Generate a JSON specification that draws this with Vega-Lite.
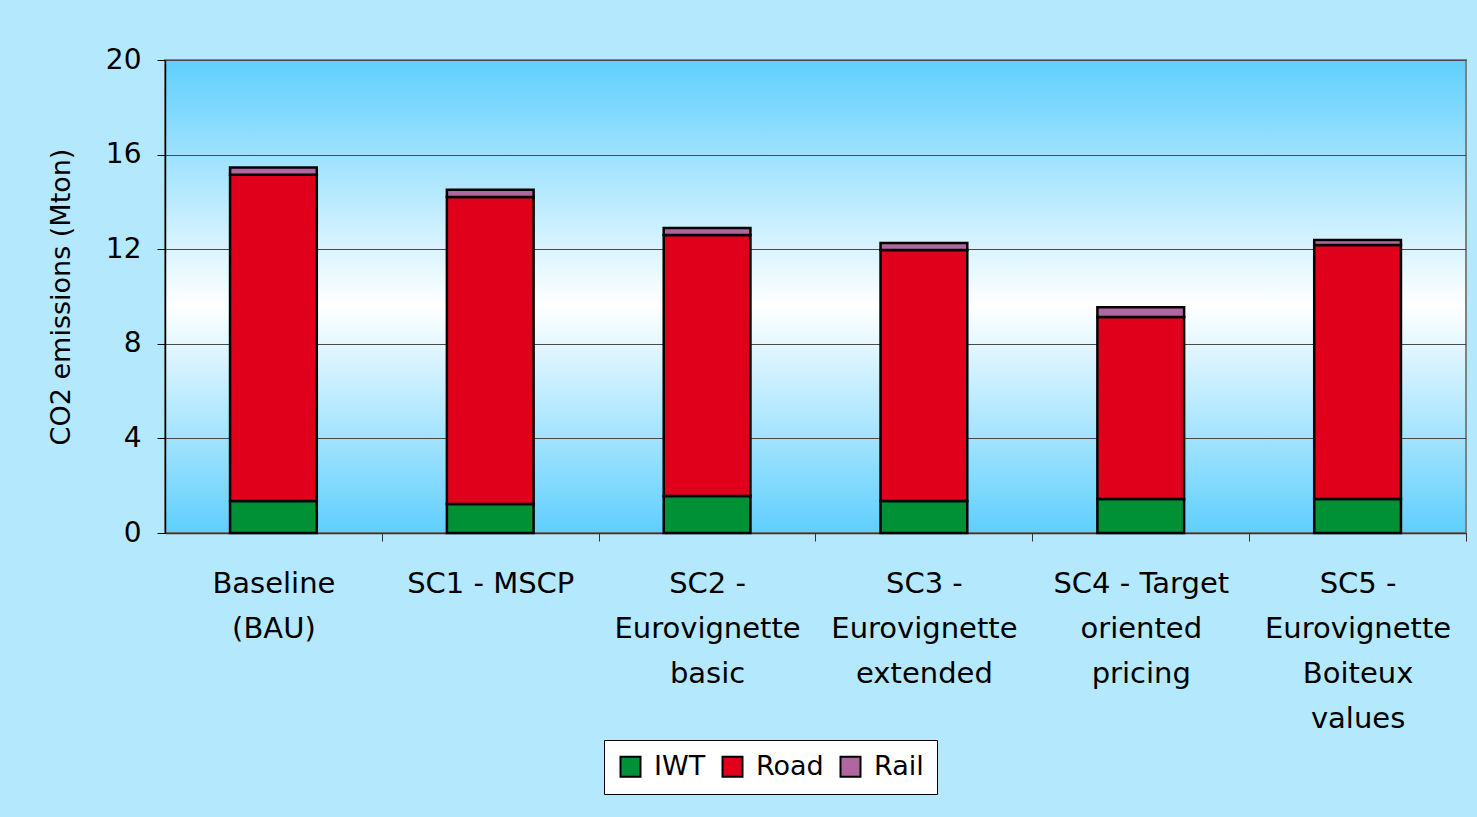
{
  "$schema": "https://vega.github.io/schema/vega-lite/v6.json",
  "autosize": {"type": "none"},
  "padding": {"left": 165, "top": 60, "right": 11, "bottom": 284},
  "width": 1301,
  "height": 473,
  "background": "#b4e8fc",
  "data": {
    "values": [
      {"scenario": "Baseline (BAU)", "mode": "IWT", "order": 1, "value": 1.35},
      {"scenario": "Baseline (BAU)", "mode": "Road", "order": 2, "value": 13.8},
      {"scenario": "Baseline (BAU)", "mode": "Rail", "order": 3, "value": 0.3},
      {"scenario": "SC1 - MSCP", "mode": "IWT", "order": 1, "value": 1.23},
      {"scenario": "SC1 - MSCP", "mode": "Road", "order": 2, "value": 12.98},
      {"scenario": "SC1 - MSCP", "mode": "Rail", "order": 3, "value": 0.3},
      {"scenario": "SC2 - Eurovignette basic", "mode": "IWT", "order": 1, "value": 1.56},
      {"scenario": "SC2 - Eurovignette basic", "mode": "Road", "order": 2, "value": 11.04},
      {"scenario": "SC2 - Eurovignette basic", "mode": "Rail", "order": 3, "value": 0.3},
      {"scenario": "SC3 - Eurovignette extended", "mode": "IWT", "order": 1, "value": 1.35},
      {"scenario": "SC3 - Eurovignette extended", "mode": "Road", "order": 2, "value": 10.62},
      {"scenario": "SC3 - Eurovignette extended", "mode": "Rail", "order": 3, "value": 0.29},
      {"scenario": "SC4 - Target oriented pricing", "mode": "IWT", "order": 1, "value": 1.44},
      {"scenario": "SC4 - Target oriented pricing", "mode": "Road", "order": 2, "value": 7.69},
      {"scenario": "SC4 - Target oriented pricing", "mode": "Rail", "order": 3, "value": 0.42},
      {"scenario": "SC5 - Eurovignette Boiteux values", "mode": "IWT", "order": 1, "value": 1.44},
      {"scenario": "SC5 - Eurovignette Boiteux values", "mode": "Road", "order": 2, "value": 10.74},
      {"scenario": "SC5 - Eurovignette Boiteux values", "mode": "Rail", "order": 3, "value": 0.21}
    ]
  },
  "mark": {"type": "bar", "stroke": "#000000", "strokeWidth": 2.5},
  "encoding": {
    "x": {
      "field": "scenario",
      "type": "nominal",
      "sort": null,
      "scale": {"paddingInner": 0.6, "paddingOuter": 0.3},
      "axis": {
        "title": null,
        "labelAngle": 0,
        "labelFont": "DejaVu Sans",
        "labelFontSize": 29,
        "labelColor": "#000000",
        "labelPadding": 28,
        "labelLineHeight": 45,
        "labelLimit": 300,
        "labelExpr": "({'Baseline (BAU)': ['Baseline', '(BAU)'], 'SC1 - MSCP': ['SC1 - MSCP'], 'SC2 - Eurovignette basic': ['SC2 -', 'Eurovignette', 'basic'], 'SC3 - Eurovignette extended': ['SC3 -', 'Eurovignette', 'extended'], 'SC4 - Target oriented pricing': ['SC4 - Target', 'oriented', 'pricing'], 'SC5 - Eurovignette Boiteux values': ['SC5 -', 'Eurovignette', 'Boiteux', 'values']})[datum.value]",
        "tickBand": "center",
        "tickOffset": 108.4,
        "labelOffset": -108.4,
        "tickSize": 8,
        "tickColor": "#333333",
        "domainColor": "#333333",
        "domainWidth": 1.5
      }
    },
    "y": {
      "field": "value",
      "type": "quantitative",
      "stack": "zero",
      "scale": {"domain": [0, 20]},
      "axis": {
        "title": "CO2 emissions (Mton)",
        "titleFont": "DejaVu Sans",
        "titleFontSize": 27,
        "titleFontWeight": "normal",
        "titleColor": "#000000",
        "titlePadding": 30,
        "values": [0, 4, 8, 12, 16, 20],
        "labelFont": "DejaVu Sans",
        "labelFontSize": 28,
        "labelColor": "#000000",
        "labelPadding": 16,
        "tickSize": 8,
        "tickColor": "#000000",
        "domainColor": "#000000",
        "domainWidth": 1.5,
        "grid": true,
        "gridColor": "#4a4a4a",
        "gridWidth": 1
      }
    },
    "color": {
      "field": "mode",
      "type": "nominal",
      "sort": ["IWT", "Road", "Rail"],
      "scale": {"domain": ["IWT", "Road", "Rail"], "range": ["#009036", "#e1001b", "#b0669f"]},
      "legend": {
        "title": null,
        "orient": "none",
        "legendX": 439,
        "legendY": 680,
        "direction": "horizontal",
        "symbolType": "square",
        "symbolSize": 400,
        "symbolStrokeColor": "#000000",
        "symbolStrokeWidth": 2,
        "symbolOpacity": 1,
        "labelFont": "DejaVu Sans",
        "labelFontSize": 27,
        "labelColor": "#000000",
        "labelOffset": 10,
        "columnPadding": 12,
        "fillColor": "#ffffff",
        "strokeColor": "#000000",
        "padding": 13
      }
    },
    "order": {"field": "order", "type": "quantitative"}
  },
  "config": {
    "view": {
      "fill": {
        "gradient": "linear",
        "x1": 0, "y1": 0, "x2": 0, "y2": 1,
        "stops": [
          {"offset": 0, "color": "#5fcffd"},
          {"offset": 0.52, "color": "#ffffff"},
          {"offset": 1, "color": "#5fcffd"}
        ]
      },
      "stroke": "#808080",
      "strokeWidth": 2
    }
  }
}
